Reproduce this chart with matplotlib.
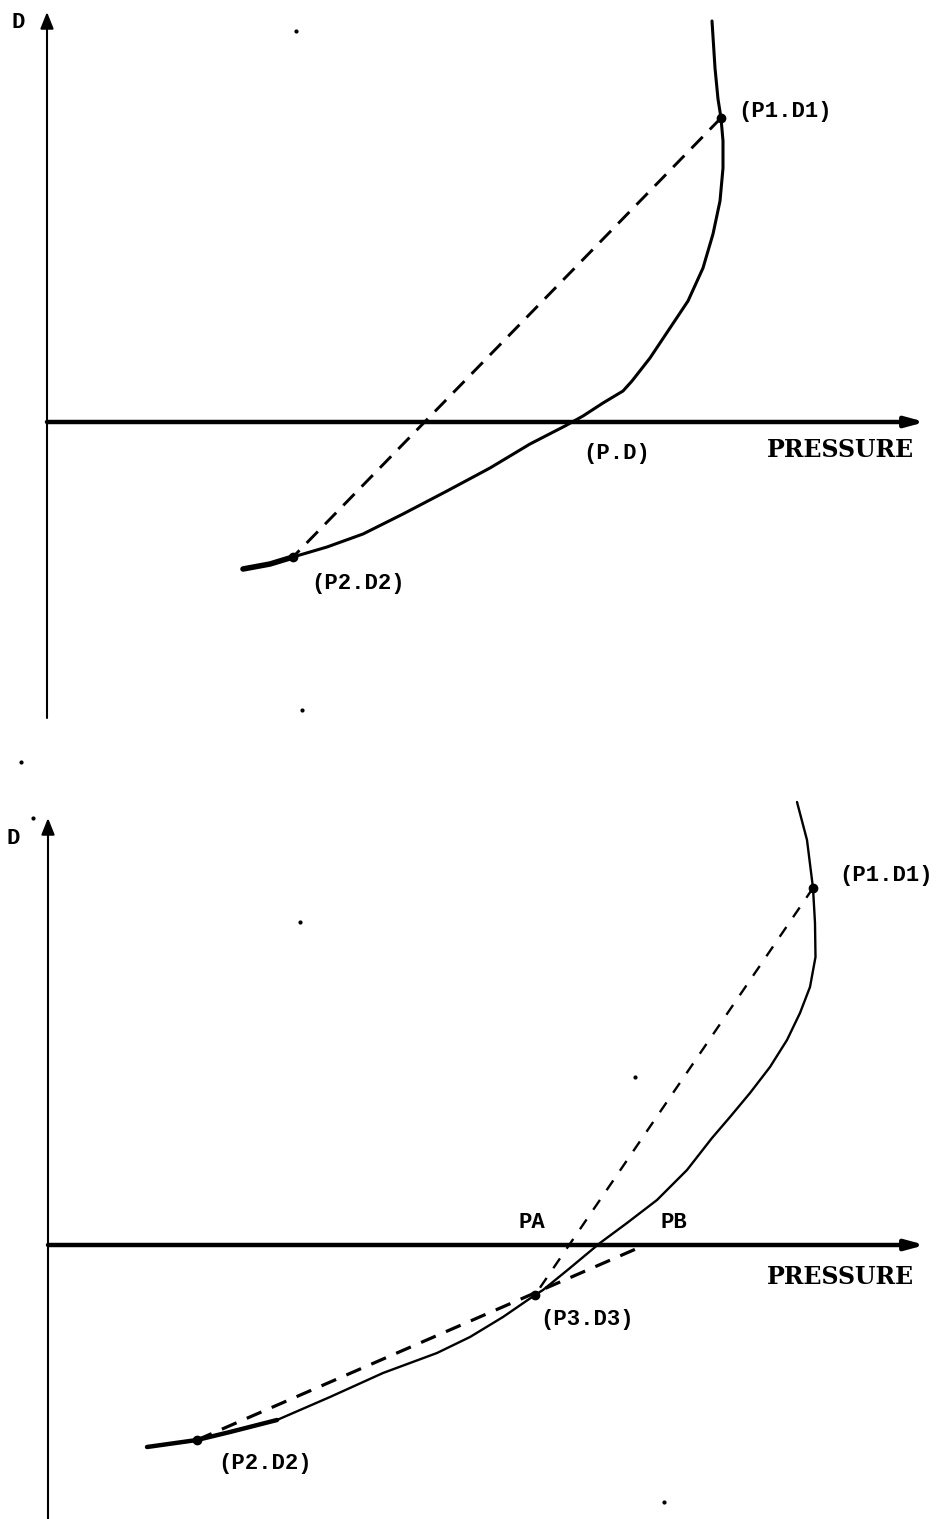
import matplotlib.pyplot as plt

# ---- data (pressure / D in arbitrary units, origin where the axes cross) ----
# upper diagram
top_p = [66.5, 66.8, 67.1, 67.4, 67.6, 67.6, 67.3, 66.6, 65.6, 64.1, 62.3, 60.3,
         58.5, 57.6, 55.6, 53.6, 51.8, 48.3, 44.3, 40.0, 35.6, 31.6, 28.0, 24.6,
         22.3, 19.6]
top_d = [40.1, 35.4, 32.3, 30.4, 28.1, 25.4, 22.1, 18.8, 15.4, 12.1, 9.4, 6.4,
         4.1, 3.1, 1.9, 0.6, -0.4, -2.2, -4.6, -6.9, -9.2, -11.2, -12.5, -13.5,
         -14.2, -14.7]
top_p1 = (67.4, 30.4)
top_p2 = (24.6, -13.5)
top_specks_p = [24.9, 25.5]
top_specks_d = [39.1, -28.8]

# lower diagram
bot_p = [74.9, 75.9, 76.5, 76.7, 76.75, 76.2, 75.2, 73.9, 72.2, 70.2, 68.2, 66.4,
         63.9, 60.9, 57.9, 55.2, 52.2, 49.5, 48.7, 45.5, 42.2, 38.9, 33.5, 28.2,
         22.9, 18.2, 14.9, 9.9]
bot_d = [44.3, 40.5, 35.7, 32.2, 28.8, 25.8, 23.2, 20.5, 17.8, 15.2, 12.8, 10.7,
         7.5, 4.5, 2.2, 0.2, -2.3, -4.5, -5.0, -7.2, -9.2, -10.8, -12.8, -15.2,
         -17.5, -18.7, -19.5, -20.2]
bot_p1 = (76.5, 35.7)
bot_p2 = (14.9, -19.5)
bot_p3 = (48.7, -5.0)
bot_pb = (59.7, 0.0)
bot_specks_p = [-2.7, -1.5, 25.2, 58.7, 61.6]
bot_specks_d = [48.3, 42.7, 32.3, 16.8, -25.7]

W, H = 942, 1519
fig = plt.figure(figsize=(W / 100, H / 100), dpi=100)
fig.patch.set_facecolor('white')

lab = dict(family='Liberation Mono', weight='bold', fontsize=16, color='black')
big = dict(family='DejaVu Serif', weight='bold', fontsize=17, color='black')


def make_axes(top_px, bot_px, ox, oy):
    # axes spanning the full width between two pixel rows, 1 unit = 10 px
    ax = fig.add_axes([0, 1 - bot_px / H, 1, (bot_px - top_px) / H])
    ax.set_xlim(-ox / 10, (W - ox) / 10)
    ax.set_ylim((oy - bot_px) / 10, (oy - top_px) / 10)
    ax.axis('off')
    return ax


def draw_axes(ax, ybot, ytop, xend):
    ax.annotate('', xy=(0, ytop), xytext=(0, ybot),
                arrowprops=dict(arrowstyle='-|>,head_length=1.0,head_width=0.4',
                                lw=1.5, color='black', shrinkA=0, shrinkB=0))
    ax.annotate('', xy=(xend, 0), xytext=(0, 0),
                arrowprops=dict(arrowstyle='-|>,head_length=1.1,head_width=0.3',
                                lw=3.2, color='black', shrinkA=0, shrinkB=0))


# ---- upper diagram ----
ax = make_axes(0, 740, 47, 422)
draw_axes(ax, -29.6, 41.0, 87.8)
ax.plot(top_p, top_d, color='black', lw=2.2, solid_capstyle='round',
        solid_joinstyle='round')
ax.plot(top_p[-3:], top_d[-3:], color='black', lw=4.0, solid_capstyle='round')
ax.plot([top_p1[0], top_p2[0]], [top_p1[1], top_p2[1]], color='black', lw=2.1,
        dashes=(5.5, 3.5))
ax.plot([top_p1[0], top_p2[0]], [top_p1[1], top_p2[1]], 'o', color='black', ms=6)
ax.plot(top_specks_p, top_specks_d, 'o', color='black', ms=2)
ax.text(-3.5, 39.9, 'D', ha='left', va='center', **lab)
ax.text(69.1, 31.1, '(P1.D1)', ha='left', va='center', **lab)
ax.text(53.6, -3.2, '(P.D)', ha='left', va='center', **lab)
ax.text(72.0, -2.8, 'PRESSURE', ha='left', va='center', **big)
ax.text(26.4, -16.1, '(P2.D2)', ha='left', va='center', **lab)

# ---- lower diagram ----
ax = make_axes(740, 1519, 48, 1245)
draw_axes(ax, -27.5, 42.7, 87.7)
ax.plot(bot_p, bot_d, color='black', lw=1.7, solid_capstyle='round',
        solid_joinstyle='round')
ax.plot(bot_p[-4:], bot_d[-4:], color='black', lw=3.2, solid_capstyle='round')
ax.plot([bot_p1[0], bot_p3[0]], [bot_p1[1], bot_p3[1]], color='black', lw=1.7,
        dashes=(5, 5))
ax.plot([bot_p2[0], bot_pb[0]], [bot_p2[1], bot_pb[1]], color='black', lw=2.3,
        dashes=(5, 3.5))
ax.plot([bot_p1[0], bot_p2[0], bot_p3[0]], [bot_p1[1], bot_p2[1], bot_p3[1]], 'o',
        color='black', ms=6)
ax.plot(bot_specks_p, bot_specks_d, 'o', color='black', ms=2)
ax.text(-4.1, 40.7, 'D', ha='left', va='center', **lab)
ax.text(79.1, 37.0, '(P1.D1)', ha='left', va='center', **lab)
ax.text(47.0, 2.3, 'PA', ha='left', va='center', **lab)
ax.text(61.3, 2.3, 'PB', ha='left', va='center', **lab)
ax.text(71.9, -3.2, 'PRESSURE', ha='left', va='center', **big)
ax.text(49.2, -7.5, '(P3.D3)', ha='left', va='center', **lab)
ax.text(17.0, -21.8, '(P2.D2)', ha='left', va='center', **lab)

fig.savefig('out.png', dpi=100, facecolor='white')
